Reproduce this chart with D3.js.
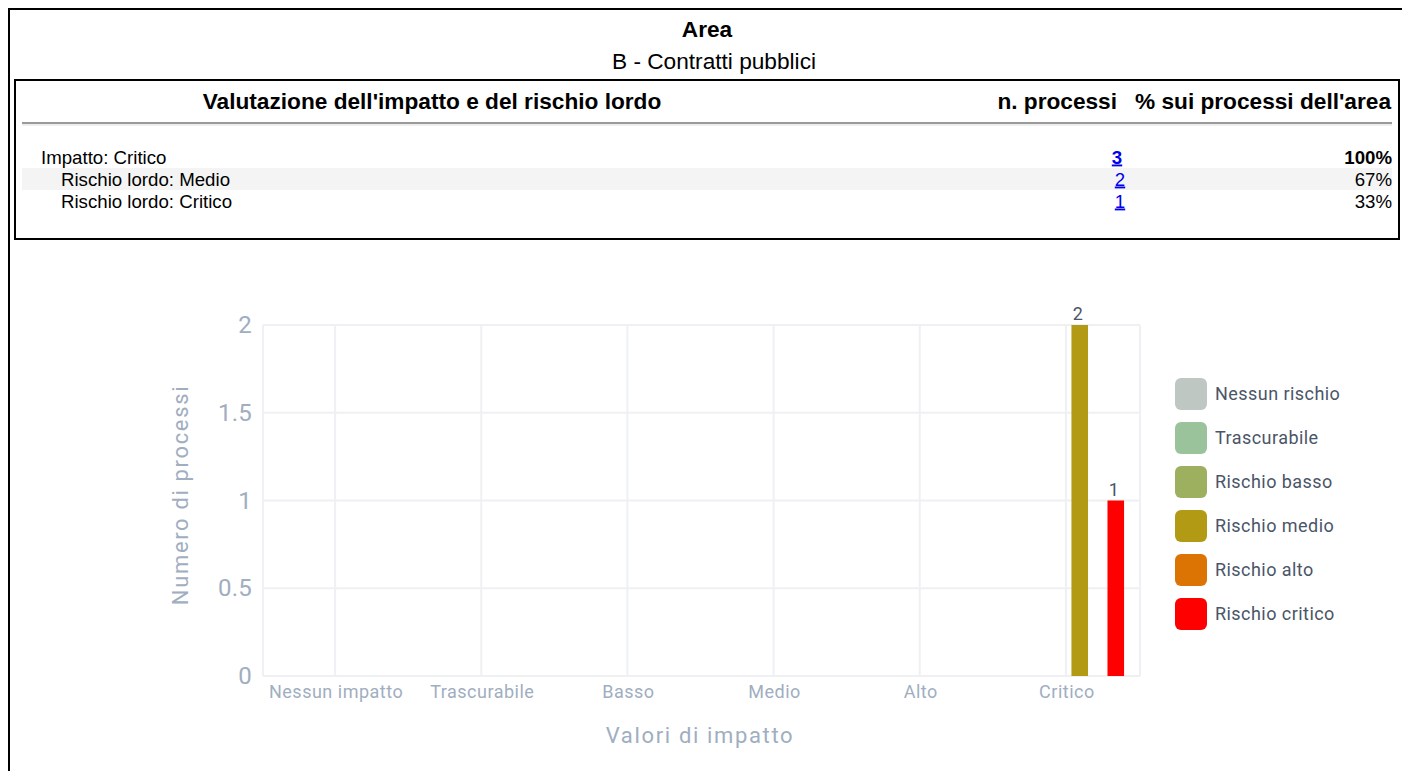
<!DOCTYPE html>
<html lang="it">
<head>
<meta charset="UTF-8">
<title>Area B - Contratti pubblici</title>
<script src="https://d3js.org/d3.v7.min.js"></script>
<style>
  body { margin: 0; background: #fff; }
  svg { display: block; }
  .hdr { font-family: "Liberation Sans", Arial, sans-serif; fill: #000; }
  .chart text { font-family: Roboto, "Noto Sans", sans-serif; }
</style>
</head>
<body>
<div id="chart"></div>
<script>
// dati della tabella
const titolo = "Area";
const sottotitolo = "B - Contratti pubblici";
const intestazioni = ["Valutazione dell'impatto e del rischio lordo", "n. processi", "% sui processi dell'area"];
const righeEtichette = ["Impatto: Critico", "Rischio lordo: Medio", "Rischio lordo: Critico"];
const righeLivello = [0, 1, 1];
const righeProcessi = [3, 2, 1];
const righePercentuali = ["100%", "67%", "33%"];

// dati del grafico
const impatti = ["Nessun impatto", "Trascurabile", "Basso", "Medio", "Alto", "Critico"];
const rischi = ["Nessun rischio", "Trascurabile", "Rischio basso", "Rischio medio", "Rischio alto", "Rischio critico"];
const nessunRischio  = [0, 0, 0, 0, 0, 0];
const trascurabile   = [0, 0, 0, 0, 0, 0];
const rischioBasso   = [0, 0, 0, 0, 0, 0];
const rischioMedio   = [0, 0, 0, 0, 0, 2];
const rischioAlto    = [0, 0, 0, 0, 0, 0];
const rischioCritico = [0, 0, 0, 0, 0, 1];
const yTicks = [0, 0.5, 1, 1.5, 2];

const serie = [nessunRischio, trascurabile, rischioBasso, rischioMedio, rischioAlto, rischioCritico];

const W = 1402, H = 771;
const svg = d3.select("#chart").append("svg")
    .attr("width", W).attr("height", H);

// --- intestazione / tabella ---
const fTitolo = 22.67, fRiga = 18.67;
const hdr = svg.append("g").attr("class", "hdr");
hdr.append("rect")
    .attr("x", 9).attr("y", 9).attr("width", W + 20).attr("height", H + 20)
    .attr("fill", "none").attr("stroke", "#000").attr("stroke-width", 2);
hdr.append("text").attr("x", 707).attr("y", 37).attr("text-anchor", "middle")
    .attr("font-size", fTitolo).attr("font-weight", "bold").text(titolo);
hdr.append("text").attr("x", 714).attr("y", 69).attr("text-anchor", "middle")
    .attr("font-size", fTitolo).text(sottotitolo);
hdr.append("rect")
    .attr("x", 15).attr("y", 80).attr("width", 1384).attr("height", 159)
    .attr("fill", "none").attr("stroke", "#000").attr("stroke-width", 2);

const colX = [432, 1117, 1391];
const colAnchor = ["middle", "end", "end"];
hdr.selectAll("text.th").data(intestazioni).join("text")
    .attr("class", "th")
    .attr("x", (d, i) => colX[i]).attr("y", 109)
    .attr("text-anchor", (d, i) => colAnchor[i])
    .attr("font-size", fTitolo).attr("font-weight", "bold")
    .text(d => d);
hdr.append("line").attr("x1", 22).attr("x2", 1392).attr("y1", 123).attr("y2", 123)
    .attr("stroke", "#9a9a9a").attr("stroke-width", 2);
hdr.append("line").attr("x1", 22).attr("x2", 1392).attr("y1", 125).attr("y2", 125)
    .attr("stroke", "#eeeeee").attr("stroke-width", 2);

const rowY = i => 157 + i * 22;
hdr.selectAll("rect.rowbg").data(righeEtichette).join("rect")
    .attr("class", "rowbg")
    .attr("x", 22).attr("width", 1370)
    .attr("y", (d, i) => rowY(i) - 11).attr("height", 22)
    .attr("fill", (d, i) => i % 2 === 1 ? "#f4f4f4" : "none");
hdr.selectAll("text.lbl").data(righeEtichette).join("text")
    .attr("class", "lbl")
    .attr("x", (d, i) => 41 + righeLivello[i] * 20)
    .attr("y", (d, i) => rowY(i) + 6.5)
    .attr("font-size", fRiga).text(d => d);
hdr.selectAll("text.num").data(righeProcessi).join("text")
    .attr("class", "num")
    .attr("x", (d, i) => righeLivello[i] === 0 ? 1117 : 1120)
    .attr("y", (d, i) => rowY(i) + 6.5)
    .attr("text-anchor", "middle")
    .attr("font-size", fRiga)
    .attr("font-weight", (d, i) => righeLivello[i] === 0 ? "bold" : "normal")
    .style("fill", "#0000ee").style("text-decoration", "underline")
    .text(d => d);
hdr.selectAll("text.pct").data(righePercentuali).join("text")
    .attr("class", "pct")
    .attr("x", 1392).attr("y", (d, i) => rowY(i) + 6.5)
    .attr("text-anchor", "end")
    .attr("font-size", fRiga)
    .attr("font-weight", (d, i) => righeLivello[i] === 0 ? "bold" : "normal")
    .text(d => d);

// --- grafico ---
const plot = {left: 263, right: 1140, top: 325, bottom: 676};
const g = svg.append("g").attr("class", "chart");

const x0 = d3.scaleBand().domain(impatti).range([plot.left, plot.right]);
const bw = x0.bandwidth();
const x1 = d3.scaleBand().domain(rischi).range([bw * 0.161, bw * 0.891]).paddingInner(0.08);
const y = d3.scaleLinear().domain([0, 2]).range([plot.bottom, plot.top]);
const color = d3.scaleOrdinal().domain(rischi)
    .range(["#bfc7c2", "#9bc39b", "#9cb05f", "#b39a15", "#dc7404", "#ff0000"]);

const gridColor = "#eef0f3";
// griglia orizzontale
g.append("g")
    .selectAll("line").data(yTicks).join("line")
    .attr("x1", plot.left).attr("x2", plot.right)
    .attr("y1", d => y(d)).attr("y2", d => y(d))
    .attr("stroke", gridColor).attr("stroke-width", 2);
// griglia verticale
g.append("g")
    .selectAll("line").data(impatti).join("line")
    .attr("x1", d => x0(d) + bw / 2 - 1).attr("x2", d => x0(d) + bw / 2 - 1)
    .attr("y1", plot.top).attr("y2", plot.bottom)
    .attr("stroke", gridColor).attr("stroke-width", 2);
g.append("g")
    .selectAll("line").data(x0.range()).join("line")
    .attr("x1", d => d).attr("x2", d => d)
    .attr("y1", plot.top).attr("y2", plot.bottom)
    .attr("stroke", gridColor).attr("stroke-width", 2);

// asse Y
g.append("g")
    .attr("transform", `translate(${plot.left},0)`)
    .call(d3.axisLeft(y).tickValues(yTicks).tickSize(0).tickPadding(11).tickFormat(d => String(d)))
    .call(a => a.select(".domain").remove())
    .call(a => a.selectAll("text")
        .attr("font-size", 24).attr("fill", "#a0aec0").attr("font-family", "Roboto")
        .attr("letter-spacing", "0.2px"));

// asse X
g.append("g")
    .attr("transform", `translate(0,${plot.bottom})`)
    .call(d3.axisBottom(x0).tickSize(0).tickPadding(9))
    .call(a => a.select(".domain").remove())
    .call(a => a.selectAll("text")
        .attr("font-size", 18).attr("fill", "#a0aec0").attr("font-family", "Roboto")
        .attr("letter-spacing", "0.5px"));

// barre
const gruppi = g.append("g").selectAll("g").data(impatti).join("g")
    .attr("transform", d => `translate(${x0(d)},0)`);
gruppi.selectAll("rect")
    .data((d, i) => rischi.map((r, k) => ({rischio: r, valore: serie[k][i]})))
    .join("rect")
    .attr("x", d => x1(d.rischio))
    .attr("width", x1.bandwidth())
    .attr("y", d => y(d.valore))
    .attr("height", d => y(0) - y(d.valore))
    .attr("fill", d => color(d.rischio));
gruppi.selectAll("text")
    .data((d, i) => rischi.map((r, k) => ({rischio: r, valore: serie[k][i]})).filter(d => d.valore > 0))
    .join("text")
    .attr("x", d => x1(d.rischio) + x1.bandwidth() / 2 - 2)
    .attr("y", d => y(d.valore) - 5)
    .attr("text-anchor", "middle")
    .attr("font-size", 18).attr("fill", "#4a5568")
    .text(d => d.valore);

// titoli assi
g.append("text")
    .attr("transform", "translate(188,495) rotate(-90)")
    .attr("text-anchor", "middle")
    .attr("font-size", 22).attr("letter-spacing", "1.65px").attr("fill", "#a0aec0")
    .text("Numero di processi");
g.append("text")
    .attr("x", 700).attr("y", 743)
    .attr("text-anchor", "middle")
    .attr("font-size", 22).attr("letter-spacing", "1.65px").attr("fill", "#a0aec0")
    .text("Valori di impatto");

// legenda
const leg = g.append("g").selectAll("g").data(rischi).join("g")
    .attr("transform", (d, i) => `translate(1175,${378 + i * 44})`);
leg.append("rect")
    .attr("width", 32).attr("height", 32).attr("rx", 6)
    .attr("fill", d => color(d));
leg.append("text")
    .attr("x", 40).attr("y", 16).attr("dy", "0.35em")
    .attr("font-size", 18).attr("letter-spacing", "0.45px").attr("fill", "#4a5568")
    .text(d => d);
</script>
</body>
</html>
